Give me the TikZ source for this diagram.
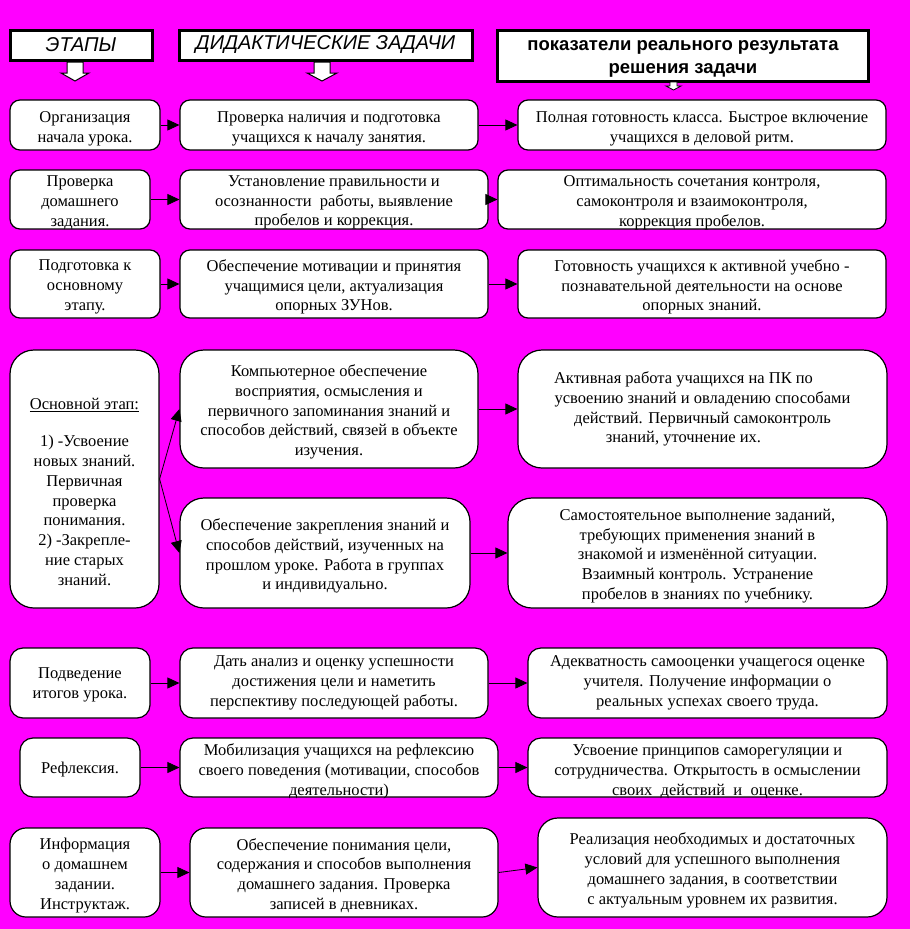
\documentclass[tikz,border=0pt]{standalone}
\usepackage{fontspec}
\setmainfont{Liberation Serif}
\newfontfamily\hsans{Liberation Sans}
\usetikzlibrary{arrows.meta}
\definecolor{bgmag}{HTML}{FF00FF}
% box from (x1,y1) to (x2,y2) with its text shifted down by dy
\newcommand\mybox[8][]{%
 \node[box,minimum width={(#5)-(#3)},minimum height={(#6)-(#4)},#1] (#2) at ({((#3)+(#5))/2},{((#4)+(#6))/2}) {};
 \node[txt] (#2-t) at ({((#3)+(#5))/2},{((#4)+(#6))/2+(#7)}) {#8};}
\begin{document}
\begin{tikzpicture}[x=1pt,y=-1pt,
 box/.style={draw=black, line width=1.2pt, fill=white, rounded corners=10pt, inner sep=0pt},
 txt/.style={align=center, inner sep=0pt, font=\fontsize{16.5}{19.8}\selectfont},
 hdr/.style={draw=black, line width=3pt, fill=white, inner sep=0pt, align=center},
 conn/.style={-{Triangle[length=12pt,width=11pt]}, line width=0.8pt},
 barrow/.style={draw=black, line width=1pt, fill=white}]
\useasboundingbox (0,0) rectangle (910,929);
\fill[bgmag] (0,0) rectangle (910,929);

% headers
\node[hdr, minimum width=142, minimum height=30, font=\hsans\itshape\fontsize{20}{22}\selectfont] (H1) at (81,45) {\raisebox{-1.5pt}{ЭТАПЫ}};
\node[hdr, minimum width=293, minimum height=30, font=\hsans\itshape\fontsize{20}{22}\selectfont] (H2) at (325.5,45) {\raisebox{-1.5pt}{ДИДАКТИЧЕСКИЕ ЗАДАЧИ}};
\node[hdr, minimum width=371, minimum height=51, font=\hsans\bfseries\fontsize{18.5}{23}\selectfont] (H3) at (683,56) {\rule{0pt}{16pt}показатели реального результата\\решения задачи};

% block arrows
\draw[barrow] (67,62) -- (83,62) -- (83,73) -- (89,73) -- (75,81) -- (61,73) -- (67,73) -- cycle;
\draw[barrow] (314,62) -- (330,62) -- (330,73) -- (337,73) -- (322,81) -- (307,73) -- (314,73) -- cycle;
\draw[barrow, line width=0.8pt] (670,82) -- (677,82) -- (677,86) -- (681,86) -- (673.5,90) -- (666,86) -- (670,86) -- cycle;

% row 1
\mybox{A1}{10}{100}{160}{150}{4}{Организация\\начала урока.}
\mybox{B1}{180}{100}{478}{150}{4}{Проверка наличия и подготовка\\учащихся к началу занятия.}
\mybox{C1}{518}{100}{886}{150}{4}{Полная готовность класса. Быстрое включение\\учащихся в деловой ритм.}
% row 2
\mybox{A2}{10}{170}{150}{229}{3}{Проверка\\домашнего\\задания.}
\mybox{B2}{180}{170}{488}{229}{3}{Установление правильности и\\осознанности\ \ работы, выявление\\пробелов и коррекция.}
\mybox{C2}{498}{170}{886}{229}{3}{Оптимальность сочетания контроля,\\самоконтроля и взаимоконтроля,\\коррекция пробелов.}
% row 3
\mybox{A3}{10}{250}{160}{318}{3}{Подготовка к\\основному\\этапу.}
\mybox{B3}{180}{250}{488}{318}{3}{Обеспечение мотивации и принятия\\учащимися цели, актуализация\\опорных ЗУНов.}
\mybox{C3}{518}{250}{886}{318}{3}{Готовность учащихся к активной учебно -\\познавательной деятельности на основе\\опорных знаний.}
% row 4
\mybox[rounded corners=24pt]{A4}{10}{350}{159}{608}{13}{\underline{Основной этап:}\\[17pt]1) -Усвоение\\новых знаний.\\Первичная\\проверка\\понимания.\\2) -Закрепле-\\ние старых\\знаний.}
\mybox[rounded corners=24pt]{B4a}{180}{350}{478}{468}{3}{Компьютерное обеспечение\\восприятия, осмысления и\\первичного запоминания знаний и\\способов действий, связей в объекте\\изучения.}
\mybox[rounded corners=24pt]{B4b}{180}{498}{470}{608}{3}{Обеспечение закрепления знаний и\\способов действий, изученных на\\прошлом уроке. Работа в группах\\и индивидуально.}
\mybox[rounded corners=24pt]{C4a}{518}{350}{887}{468}{0}{Активная работа учащихся на ПК по\hspace*{38pt}\\усвоению знаний и овладению способами\hspace*{38pt}\\действий. Первичный самоконтроль\hspace*{38pt}\\знаний, уточнение их.\hspace*{38pt}}
\mybox[rounded corners=24pt]{C4b}{508}{498}{887}{608}{3}{Самостоятельное выполнение заданий,\\требующих применения знаний в\\знакомой и изменённой ситуации.\\Взаимный контроль. Устранение\\пробелов в знаниях по учебнику.}
% row 5
\mybox[rounded corners=13pt]{A5}{10}{648}{150}{718}{2}{Подведение\\итогов урока.}
\mybox[rounded corners=13pt]{B5}{180}{648}{488}{718}{0}{Дать анализ и оценку успешности\\достижения цели и наметить\\перспективу последующей работы.}
\mybox[rounded corners=13pt]{C5}{528}{648}{887}{718}{0}{Адекватность самооценки учащегося оценке\\учителя. Получение информации о\\реальных успехах своего труда.}
% row 6
\mybox[rounded corners=13pt]{A6}{20}{738}{140}{797}{2}{Рефлексия.}
\mybox[rounded corners=13pt]{B6}{180}{738}{498}{797}{4}{Мобилизация учащихся на рефлексию\\своего поведения (мотивации, способов\\деятельности)}
\mybox[rounded corners=13pt]{C6}{528}{738}{887}{797}{4}{Усвоение принципов саморегуляции и\\сотрудничества. Открытость в осмыслении\\своих\ \ действий\ \ и\ \ оценке.}
% row 7
\mybox[rounded corners=16pt]{A7}{10}{828}{160}{917}{3}{Информация\\о домашнем\\задании.\\Инструктаж.}
\mybox[rounded corners=16pt]{B7}{190}{828}{498}{917}{3}{Обеспечение понимания цели,\\содержания и способов выполнения\\домашнего задания. Проверка\\записей в дневниках.}
\mybox[rounded corners=20pt]{C7}{538}{818}{887}{917}{3}{Реализация необходимых и достаточных\\условий для успешного выполнения\\домашнего задания, в соответствии\\с актуальным уровнем их развития.}

% connectors
\draw[conn] (A1) -- (B1);
\draw[conn] (B1) -- (C1);
\draw[conn] (A2) -- (B2);
\draw[conn] (B2) -- (C2);
\draw[conn] (A3) -- (B3);
\draw[conn] (B3) -- (C3);
\draw[conn] (A4.east) -- (B4a.west);
\draw[conn] (A4.east) -- (B4b.west);
\draw[conn] (B4a) -- (C4a);
\draw[conn] (B4b) -- (C4b);
\draw[conn] (A5) -- (B5);
\draw[conn] (B5) -- (C5);
\draw[conn] (A6) -- (B6);
\draw[conn] (B6) -- (C6);
\draw[conn] (A7) -- (B7);
\draw[conn] (B7.east) -- (C7.west);
\end{tikzpicture}
\end{document}
